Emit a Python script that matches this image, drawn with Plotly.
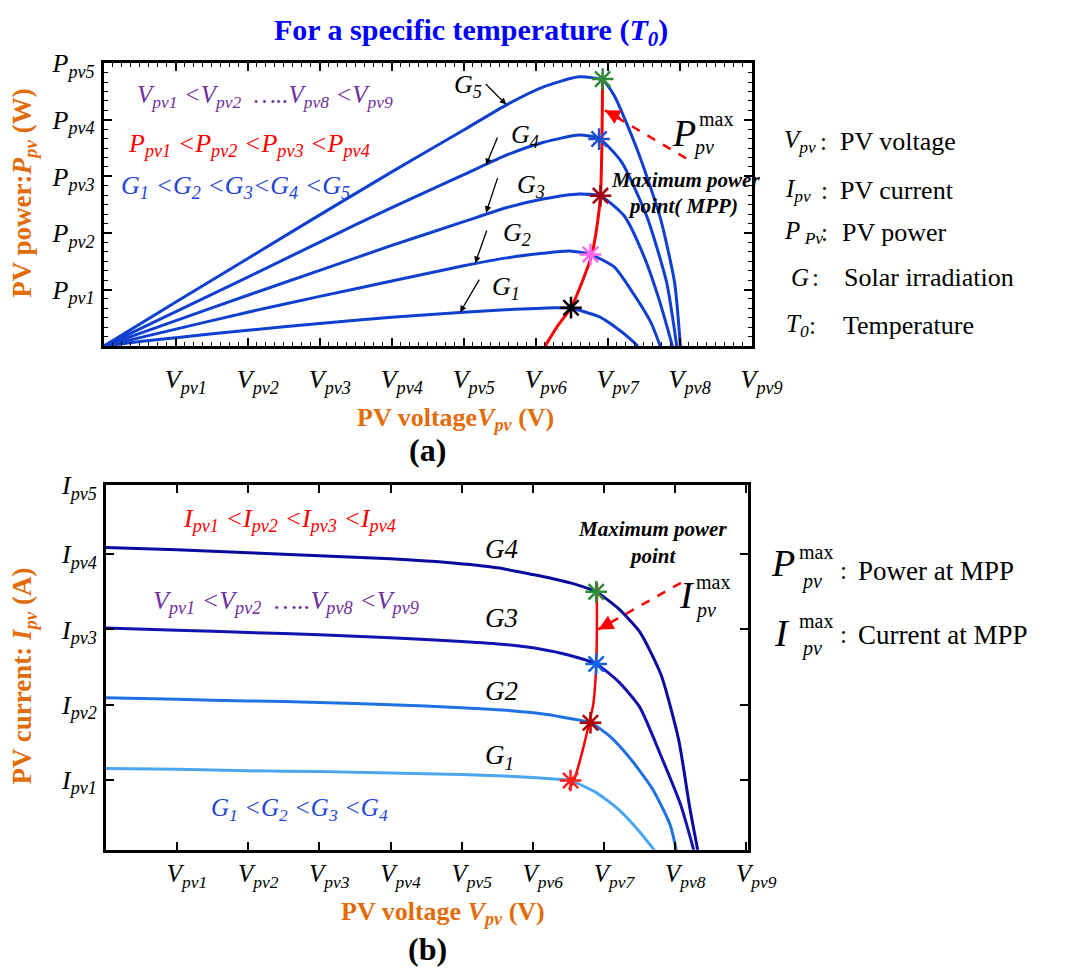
import plotly.graph_objects as go

# ---------------- data ----------------
V_TICKS = [1, 2, 3, 4, 5, 6, 7, 8, 9]
V_TEXT = ["<i>V<sub>pv%d</sub></i>" % k for k in V_TICKS]
P_TICKS = [1, 2, 3, 4, 5]
P_TEXT = ["<i>P<sub>pv%d</sub></i>" % k for k in P_TICKS]
I_TICKS = [1, 2, 3, 4, 4.92]
I_TEXT = ["<i>I<sub>pv%d</sub></i>" % k for k in [1, 2, 3, 4, 5]]

# P-V curves (panel a)
g5_v = [0, 1, 2, 3, 4, 5, 5.6, 6.1, 6.6, 6.93, 7.09, 7.42, 7.73, 7.93, 8.01]
g5_p = [0, 0.78, 1.55, 2.32, 3.08, 3.82, 4.27, 4.58, 4.76, 4.70, 4.43, 3.44, 2.27, 1.12, 0]
g4_v = [0, 1, 2, 3, 4, 5, 5.6, 6.1, 6.6, 6.88, 7.19, 7.55, 7.82, 7.96]
g4_p = [0, 0.61, 1.22, 1.84, 2.45, 3.03, 3.38, 3.60, 3.73, 3.67, 3.26, 2.27, 1.12, 0]
g3_v = [0, 1, 2, 3, 4, 5, 5.6, 6.1, 6.6, 6.9, 7.23, 7.5, 7.72, 7.9]
g3_p = [0, 0.45, 0.90, 1.34, 1.78, 2.20, 2.45, 2.60, 2.69, 2.65, 2.30, 1.60, 0.80, 0]
g2_v = [0, 1, 2, 3, 4, 5, 5.6, 6.1, 6.47, 6.76, 7.09, 7.32, 7.6, 7.73]
g2_p = [0, 0.30, 0.60, 0.88, 1.15, 1.42, 1.56, 1.64, 1.68, 1.62, 1.40, 1.00, 0.42, 0]
g1_v = [0, 0.5, 1, 2, 3, 4, 5, 5.7, 6.28, 6.49, 6.88, 7.09, 7.32, 7.42]
g1_p = [0, 0.08, 0.15, 0.28, 0.40, 0.51, 0.60, 0.65, 0.68, 0.67, 0.52, 0.35, 0.12, 0]

mpp_top_v = [6.13, 6.3, 6.49, 6.65, 6.78, 6.86, 6.9, 6.92, 6.93]
mpp_top_p = [0, 0.35, 0.68, 1.15, 1.62, 2.2, 2.66, 3.6, 4.78]
star_top_v = [6.93, 6.88, 6.9, 6.76, 6.49]
star_top_p = [4.72, 3.66, 2.66, 1.62, 0.68]
star_top_c = ["#2E8B3A", "#1E50D0", "#A00010", "#FF66F0", "#000000"]

# I-V curves (panel b)
b4_v = [0, 1, 2, 3, 4, 4.8, 5.5, 6.0, 6.3, 6.6, 6.89, 7.2, 7.5, 7.8, 8.05, 8.2, 8.33]
b4_i = [4.09, 4.06, 4.02, 3.98, 3.94, 3.89, 3.82, 3.73, 3.67, 3.60, 3.50, 3.28, 2.97, 2.40, 1.53, 0.66, 0]
b3_v = [0, 1, 2, 3, 4, 5, 5.6, 6.1, 6.5, 6.89, 7.2, 7.5, 7.8, 8.08, 8.28]
b3_i = [3.02, 2.99, 2.96, 2.93, 2.89, 2.84, 2.80, 2.74, 2.66, 2.54, 2.31, 1.97, 1.32, 0.66, 0]
b2_v = [0, 1, 2, 3, 4, 5, 5.7, 6.2, 6.5, 6.81, 7.08, 7.38, 7.68, 7.93, 8.03]
b2_i = [2.09, 2.07, 2.05, 2.03, 2.00, 1.96, 1.92, 1.87, 1.82, 1.76, 1.58, 1.27, 0.88, 0.40, 0]
b1_v = [0, 1, 2, 3, 4, 5, 5.6, 6.0, 6.3, 6.53, 6.89, 7.2, 7.5, 7.76]
b1_i = [1.15, 1.14, 1.12, 1.11, 1.09, 1.07, 1.05, 1.03, 1.01, 0.99, 0.83, 0.61, 0.31, 0]

mpp_bot_v = [6.51, 6.58, 6.68, 6.79, 6.85, 6.89, 6.9, 6.9]
mpp_bot_i = [0.87, 1.0, 1.32, 1.75, 2.01, 2.5, 3.0, 3.62]
star_bot_v = [6.89, 6.89, 6.81, 6.53]
star_bot_i = [3.50, 2.54, 1.76, 0.99]
star_bot_c = ["#2E8B3A", "#1060E0", "#B00000", "#FF2020"]

arrow_top_v = [8.09, 6.96]
arrow_top_p = [3.32, 4.17]
arrow_bot_v = [8.08, 6.92]
arrow_bot_i = [3.62, 3.0]

# ---------------- figure ----------------
W, H = 1073, 969
FONT = "Liberation Serif, Times New Roman, serif"
ORANGE = "#E36C0A"
PURPLE = "#7030A0"
GBLUE = "#1F45D8"

fig = go.Figure()

top_blue = "#1040D0"
for v, p in [(g5_v, g5_p), (g4_v, g4_p), (g3_v, g3_p), (g2_v, g2_p), (g1_v, g1_p)]:
    fig.add_trace(go.Scatter(x=v, y=p, mode="lines", xaxis="x", yaxis="y",
                             line=dict(color=top_blue, width=3, shape="spline", smoothing=0.6),
                             hoverinfo="skip"))
fig.add_trace(go.Scatter(x=mpp_top_v, y=mpp_top_p, mode="lines", xaxis="x", yaxis="y",
                         line=dict(color="#FF0000", width=3, shape="spline", smoothing=0.6)))
fig.add_trace(go.Scatter(x=arrow_top_v, y=arrow_top_p, mode="lines", xaxis="x", yaxis="y",
                         line=dict(color="#FF0000", width=2.5, dash="dash")))
fig.add_trace(go.Scatter(x=star_top_v, y=star_top_p, mode="markers", xaxis="x", yaxis="y",
                         marker=dict(symbol="asterisk-open", size=18, color=star_top_c,
                                     line=dict(color=star_top_c, width=2.5))))

bot_cols = ["#0A0A9E", "#1212B0", "#1E72E2", "#4AA6EE"]
for (v, i), c in zip([(b4_v, b4_i), (b3_v, b3_i), (b2_v, b2_i), (b1_v, b1_i)], bot_cols):
    fig.add_trace(go.Scatter(x=v, y=i, mode="lines", xaxis="x2", yaxis="y2",
                             line=dict(color=c, width=3, shape="spline", smoothing=0.6)))
fig.add_trace(go.Scatter(x=mpp_bot_v, y=mpp_bot_i, mode="lines", xaxis="x2", yaxis="y2",
                         line=dict(color="#FF0000", width=2.5, shape="spline", smoothing=0.6)))
fig.add_trace(go.Scatter(x=arrow_bot_v, y=arrow_bot_i, mode="lines", xaxis="x2", yaxis="y2",
                         line=dict(color="#FF0000", width=2.5, dash="dash")))
fig.add_trace(go.Scatter(x=star_bot_v, y=star_bot_i, mode="markers", xaxis="x2", yaxis="y2",
                         marker=dict(symbol="asterisk-open", size=18, color=star_bot_c,
                                     line=dict(color=star_bot_c, width=2.5))))

tickfont = dict(family=FONT, size=26, color="black")
common = dict(showgrid=False, zeroline=False, showline=True, linecolor="black",
              mirror="ticks", ticks="inside", tickcolor="black")

fig.update_layout(
    width=W, height=H, margin=dict(l=0, r=0, t=0, b=0),
    paper_bgcolor="white", plot_bgcolor="white", showlegend=False,
    xaxis=dict(domain=[107 / W, 774 / W], range=[0, 9], anchor="y",
               tickvals=V_TICKS, ticktext=V_TEXT, linewidth=3, ticklen=8, tickwidth=2,
               ticklabelstandoff=8, ticklabelshift=10, tickfont=tickfont,
               minor=dict(ticks="inside", ticklen=4, tickwidth=1, dtick=0.125, tickcolor="black"),
               **common),
    yaxis=dict(domain=[1 - 337 / H, 1 - 50 / H], range=[0, 5], anchor="x",
               tickvals=P_TICKS, ticktext=P_TEXT, linewidth=3, ticklen=8, tickwidth=2,
               ticklabelstandoff=1, tickfont=tickfont,
               minor=dict(ticks="inside", ticklen=4, tickwidth=1, dtick=1 / 6, tickcolor="black"),
               **common),
    xaxis2=dict(domain=[109 / W, 770 / W], range=[0, 9.02], anchor="y2",
                tickvals=V_TICKS, ticktext=V_TEXT, linewidth=2.5, ticklen=8, tickwidth=2,
                ticklabelstandoff=0, ticklabelshift=10,
                tickfont=dict(family=FONT, size=25, color="black"), **common),
    yaxis2=dict(domain=[1 - 848 / H, 1 - 478 / H], range=[0.07, 4.92], anchor="x2",
                tickvals=I_TICKS, ticktext=I_TEXT, linewidth=2.5, ticklen=8, tickwidth=2,
                ticklabelstandoff=1, tickfont=tickfont, **common),
)

ann = []


def txt(x, y, s, size, color="black", xanchor="center", angle=0, yanchor="middle"):
    ann.append(dict(x=x / W, y=1 - y / H, xref="paper", yref="paper", text=s, showarrow=False,
                    xanchor=xanchor, yanchor=yanchor, textangle=angle,
                    font=dict(family=FONT, size=size, color=color)))


# title and axis titles
txt(485, 18, "<b>For a specific temperature (<i>T<sub>0</sub></i>)</b>", 30, "#0000FF")
txt(25, 182, "<b>PV power:<i>P<sub>pv</sub></i> (W)</b>", 27, ORANGE, angle=-90)
txt(469, 411, "<b>PV voltage<i>V<sub>pv</sub></i> (V)</b>", 26, ORANGE)
txt(440, 442, "<b>(a)</b>", 32)
txt(25, 672, "<b>PV current: <i>I<sub>pv</sub></i> (A)</b>", 27, ORANGE, angle=-90)
txt(456, 912, "<b>PV voltage <i>V<sub>pv</sub></i> (V)</b>", 26, ORANGE)
txt(440, 949, "<b>(b)</b>", 32)

# panel (a) inner texts
txt(273, 84, "<i>V<sub>pv1</sub> &lt;V<sub>pv2</sub>  …..V<sub>pv8</sub> &lt;V<sub>pv9</sub></i>", 25, PURPLE)
txt(256, 133, "<i>P<sub>pv1</sub> &lt;P<sub>pv2</sub> &lt;P<sub>pv3</sub> &lt;P<sub>pv4</sub></i>", 26, "#FF0000")
txt(243, 176, "<i>G<sub>1</sub> &lt;G<sub>2</sub> &lt;G<sub>3</sub>&lt;G<sub>4</sub> &lt;G<sub>5</sub></i>", 26, GBLUE)
txt(482, 73, "<i>G<sub>5</sub></i>", 26)
txt(541, 124, "<i>G<sub>4</sub></i>", 26)
txt(547, 175, "<i>G<sub>3</sub></i>", 26)
txt(532, 223, "<i>G<sub>2</sub></i>", 26)
txt(521, 278, "<i>G<sub>1</sub></i>", 26)
txt(706, 168, "<b><i>Maximum power</i></b>", 21)
txt(703, 195, "<b><i>point( MPP)</i></b>", 21)
txt(704, 121, "<i>P</i>", 38)
txt(737, 107, "max", 20)
txt(724, 135, "<i>pv</i>", 20)

# panel (b) inner texts
txt(298, 513, "<i>I<sub>pv1</sub> &lt;I<sub>pv2</sub> &lt;I<sub>pv3</sub> &lt;I<sub>pv4</sub></i>", 26, "#FF0000")
txt(294, 597, "<i>V<sub>pv1</sub> &lt;V<sub>pv2</sub>  …..V<sub>pv8</sub> &lt;V<sub>pv9</sub></i>", 26, PURPLE)
txt(308, 807, "<i>G<sub>1</sub> &lt;G<sub>2</sub> &lt;G<sub>3</sub> &lt;G<sub>4</sub></i>", 25, GBLUE)
txt(516, 543, "<i>G4</i>", 27)
txt(516, 613, "<i>G3</i>", 27)
txt(516, 687, "<i>G2</i>", 27)
txt(514, 754, "<i>G<sub>1</sub></i>", 27)
txt(672, 523, "<b><i>Maximum power</i></b>", 21)
txt(672, 550, "<b><i>point</i></b>", 21)
txt(707, 590, "<i>I</i>", 38)
txt(734, 576, "max", 20)
txt(726, 605, "<i>pv</i>", 20)

# right-hand legend
rows = [(129, "<i>V<sub>pv</sub></i>", 805, 848, "PV voltage", 863),
        (179, "<i>I<sub>pv</sub></i>", 806, 849, "PV current", 863),
        (222, "<i>P<sub> Pv</sub></i>", 805, 849, "PV power", 865),
        (267, "<i>G</i>", 812, 840, "Solar irradiation", 867),
        (316, "<i>T<sub>0</sub></i>", 807, 837, "Temperature", 866)]
for y, sym, xs, xc, desc, xd in rows:
    txt(xs, y, sym, 25, xanchor="left")
    txt(xc, y, ":", 25)
    txt(xd, y, desc, 26, xanchor="left")

txt(806, 557, "<i>P</i>", 38)
txt(840, 546, "max", 20)
txt(836, 576, "<i>pv</i>", 20)
txt(869, 565, ":", 25)
txt(881, 565, "Power at MPP", 27, xanchor="left")
txt(805, 628, "<i>I</i>", 38)
txt(840, 616, "max", 20)
txt(836, 644, "<i>pv</i>", 20)
txt(869, 630, ":", 25)
txt(881, 630, "Current at MPP", 27, xanchor="left")

# black pointer arrows in panel (a)
for hx, hy, ax, ay in [(5.59, 4.27, -22, -22), (5.31, 3.2, 12, -29), (5.31, 2.36, 12, -36),
                       (5.16, 1.47, 12, -34), (4.95, 0.6, 20, -34)]:
    ann.append(dict(x=hx, y=hy, xref="x", yref="y", ax=ax, ay=ay, text="", showarrow=True,
                    arrowhead=2, arrowsize=1, arrowwidth=1.3, arrowcolor="black"))

# red arrow heads
ann.append(dict(x=arrow_top_v[1], y=arrow_top_p[1], xref="x", yref="y", ax=17, ay=9, text="",
                showarrow=True, arrowhead=2, arrowsize=1.2, arrowwidth=2.5, arrowcolor="#FF0000"))
ann.append(dict(x=arrow_bot_v[1], y=arrow_bot_i[1], xref="x2", yref="y2", ax=15, ay=-8, text="",
                showarrow=True, arrowhead=2, arrowsize=1.2, arrowwidth=2.5, arrowcolor="#FF0000"))

fig.update_layout(annotations=ann)
fig.write_html("out.html")
